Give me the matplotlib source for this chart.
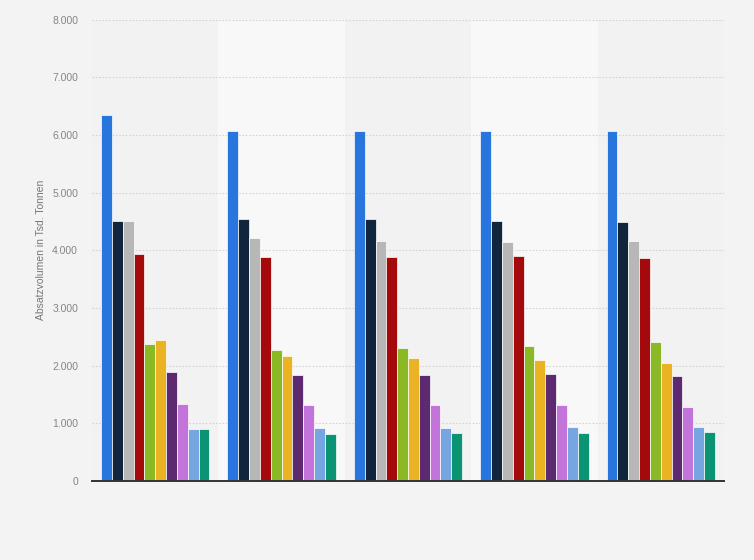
import matplotlib
matplotlib.use("Agg")
import matplotlib.pyplot as plt
import numpy as np
from matplotlib.ticker import FuncFormatter

plt.rcParams['font.family'] = ['Liberation Sans', 'DejaVu Sans']

# five groups (no category labels shown), ten series each
groups = ['', '', '', '', '']
series_colors = ['#2876dd', '#11263d', '#b7b7b7', '#a40a0c', '#8bb926',
                 '#e9b324', '#5d2a72', '#c374da', '#77a5e2', '#0b9474']

values = [
    [6340, 4500, 4500, 3940, 2380, 2440, 1895, 1330, 910, 910],
    [6060, 4540, 4205, 3875, 2265, 2160, 1830, 1310, 925, 810],
    [6075, 4540, 4155, 3875, 2300, 2125, 1830, 1310, 925, 825],
    [6075, 4500, 4135, 3900, 2335, 2090, 1850, 1310, 940, 825],
    [6075, 4485, 4155, 3860, 2405, 2040, 1815, 1275, 940, 845],
]
ylabel = "Absatzvolumen in Tsd. Tonnen"

fig = plt.figure(figsize=(7.54, 5.6), dpi=100, facecolor='#f3f3f3')
ax = fig.add_axes([92/754, 79/560, 632/754, 461.5/560])
ax.set_facecolor('#f2f2f2')

n_groups = len(groups)
n_series = len(series_colors)
group_w = 0.857
bar_w = group_w / n_series
x = np.arange(n_groups)

# lighter bands behind every second group
for i in range(n_groups):
    if i % 2 == 1:
        ax.axvspan(i - 0.5, i + 0.5, color='#f8f8f8', zorder=0, lw=0)

for j in range(n_series):
    vals = [values[g][j] for g in range(n_groups)]
    offs = -group_w / 2 + bar_w * (j + 0.5)
    ax.bar(x + offs, vals, width=bar_w, color=series_colors[j],
           edgecolor='#ffffff', linewidth=0.5, zorder=3)

ax.set_xlim(-0.5, n_groups - 0.5)
ax.set_ylim(0, 8000)
ax.set_yticks(np.arange(0, 8001, 1000))
ax.yaxis.set_major_formatter(FuncFormatter(lambda v, p: f"{int(v):,}".replace(",", ".")))
ax.set_xticks(x)
ax.set_xticklabels(groups)
ax.tick_params(axis='both', length=0)
ax.tick_params(axis='y', labelsize=7.5, labelcolor='#858585', pad=10)

ax.grid(axis='y', color='#d4d4d4', linestyle=(0, (1.5, 1.5)), linewidth=0.8, zorder=1)
for s in ['top', 'right', 'left']:
    ax.spines[s].set_visible(False)
ax.spines['bottom'].set_color('#333333')
ax.spines['bottom'].set_linewidth(1.4)
ax.spines['bottom'].set_zorder(4)

ax.set_ylabel(ylabel, fontsize=7.5, color='#777777')
ax.yaxis.set_label_coords(-0.072, 0.5)

fig.savefig("out.png", dpi=100, facecolor=fig.get_facecolor())
